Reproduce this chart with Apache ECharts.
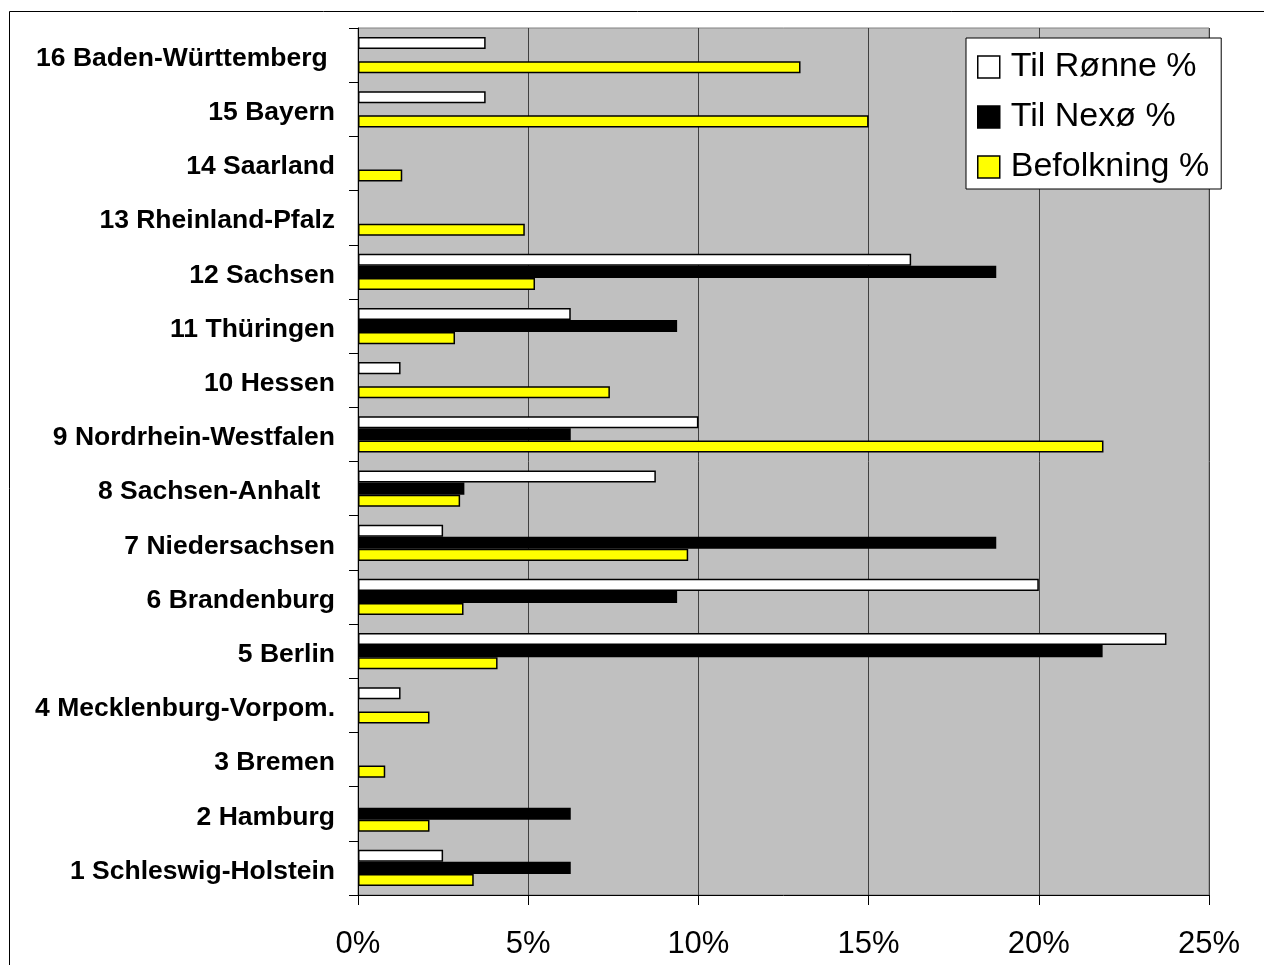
<!DOCTYPE html>
<html>
<head>
<meta charset="utf-8">
<script src="https://cdn.jsdelivr.net/npm/echarts@6/dist/echarts.min.js"></script>
<style>
  html, body { margin: 0; padding: 0; background: #ffffff; }
  #chart { width: 1264px; height: 965px; }
</style>
</head>
<body>
<div id="chart"></div>
<script>
// German states, listed from the bottom of the axis upwards
const categories = [
  '1 Schleswig-Holstein', '2 Hamburg', '3 Bremen', '4 Mecklenburg-Vorpom.',
  '5 Berlin', '6 Brandenburg', '7 Niedersachsen', '8 Sachsen-Anhalt  ',
  '9 Nordrhein-Westfalen', '10 Hessen', '11 Thüringen', '12 Sachsen',
  '13 Rheinland-Pfalz', '14 Saarland', '15 Bayern', '16 Baden-Württemberg '
];

const seriesNames = ['Til Rønne %', 'Til Nexø %', 'Befolkning %'];

// Share (%) per state
const tilRonne = [2.5, 0, 0, 1.25, 23.75, 20, 2.5, 8.75, 10, 1.25, 6.25, 16.25, 0, 0, 3.75, 3.75];
const tilNexo = [6.25, 6.25, 0, 0, 21.875, 9.375, 18.75, 3.125, 6.25, 0, 9.375, 18.75, 0, 0, 0, 0];
const befolkning = [3.4, 2.1, 0.8, 2.1, 4.1, 3.1, 9.7, 3.0, 21.9, 7.4, 2.85, 5.2, 4.9, 1.3, 15.0, 13.0];

const xTicks = { min: 0, max: 25, interval: 5 };

const colors = ['#ffffff', '#000000', '#ffff00'];
const values = [tilRonne, tilNexo, befolkning];

// zero-length bars get no outline so nothing shows on the axis
function toItems(arr) {
  return arr.map(v => v === 0 ? { value: v, itemStyle: { borderWidth: 0 } } : v);
}

const chart = echarts.init(document.getElementById('chart'), null, { renderer: 'canvas' });

chart.setOption({
  backgroundColor: '#ffffff',
  animation: false,
  textStyle: { fontFamily: 'Liberation Sans, Arial, sans-serif' },
  graphic: [{
    type: 'rect',
    silent: true,
    shape: { x: 9.5, y: 11.5, width: 1300, height: 1000 },
    style: { fill: 'none', stroke: '#000000', lineWidth: 1 }
  }],
  grid: {
    left: 358, top: 28, right: 55, bottom: 70,
    show: true,
    backgroundColor: '#c0c0c0',
    borderColor: '#808080',
    borderWidth: 1
  },
  legend: {
    orient: 'vertical',
    left: 966,
    top: 38,
    data: seriesNames,
    backgroundColor: '#ffffff',
    borderColor: '#000000',
    borderWidth: 1,
    padding: [12, 12, 5, 11],
    itemWidth: 22,
    itemHeight: 22,
    itemGap: 16,
    icon: 'rect',
    itemStyle: { borderColor: '#000000', borderWidth: 1.5 },
    textStyle: {
      fontSize: 34,
      lineHeight: 34,
      color: '#000000',
      fontFamily: 'Liberation Sans, Arial, sans-serif',
      padding: [0, 0, 0, 6]
    }
  },
  xAxis: {
    type: 'value',
    min: xTicks.min,
    max: xTicks.max,
    interval: xTicks.interval,
    axisLine: { show: true, lineStyle: { color: '#000000', width: 1 } },
    axisTick: { show: true, length: 10, lineStyle: { color: '#000000' } },
    axisLabel: {
      formatter: '{value}%',
      fontSize: 31,
      color: '#000000',
      margin: 34,
      fontFamily: 'Liberation Sans, Arial, sans-serif'
    },
    splitLine: { show: true, lineStyle: { color: '#404040', width: 1 } }
  },
  yAxis: {
    type: 'category',
    data: categories,
    axisLine: { show: true, lineStyle: { color: '#000000', width: 1 } },
    axisTick: { show: true, length: 9, lineStyle: { color: '#000000' } },
    axisLabel: {
      margin: 23,
      formatter: v => '{n|' + v + '}',
      rich: {
        n: {
          fontSize: 26.5,
          fontWeight: 'bold',
          color: '#000000',
          lineHeight: 30,
          padding: [7, 0, 0, 0],
          fontFamily: 'Liberation Sans, Arial, sans-serif'
        }
      }
    },
    splitLine: { show: false }
  },
  series: seriesNames.map((name, i) => ({
    name: name,
    type: 'bar',
    data: toItems(values[i]),
    barGap: '0%',
    barCategoryGap: '33%',
    itemStyle: {
      color: colors[i],
      borderColor: '#000000',
      borderWidth: i === 1 ? 0 : 1.5
    }
  }))
});
</script>
</body>
</html>
